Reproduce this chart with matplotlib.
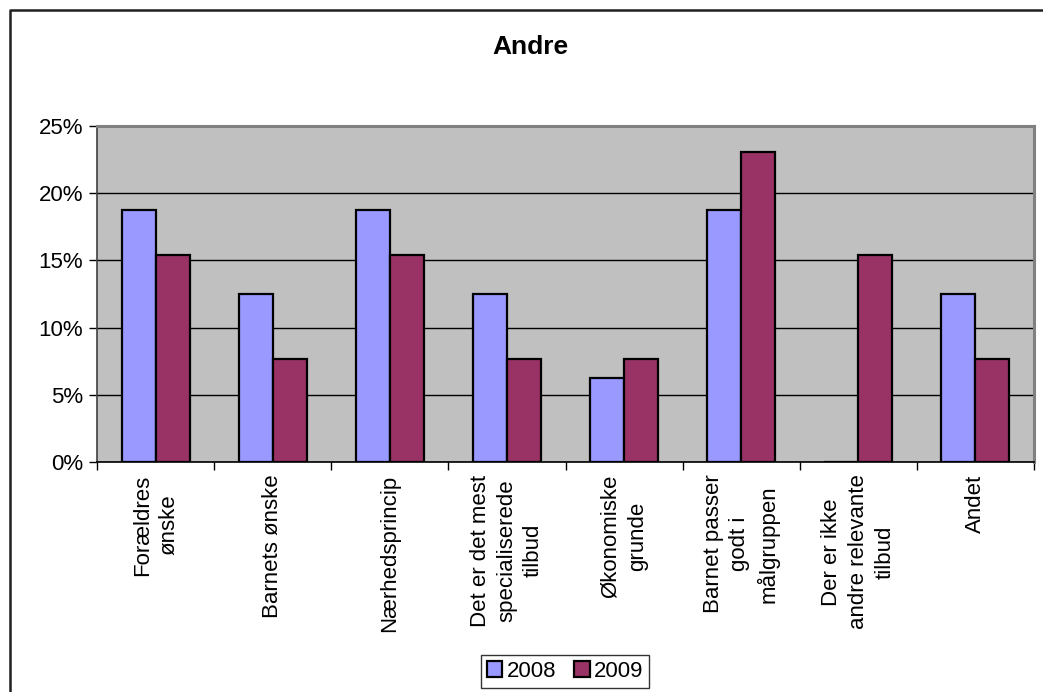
import numpy as np
import matplotlib
matplotlib.use("Agg")
import matplotlib.pyplot as plt
from matplotlib.lines import Line2D
from matplotlib.ticker import PercentFormatter

plt.rcParams['font.family'] = ['Liberation Sans', 'DejaVu Sans']

categories = [
    "Forældres\nønske",
    "Barnets ønske",
    "Nærhedsprincip",
    "Det er det mest\nspecialiserede\ntilbud",
    "Økonomiske\ngrunde",
    "Barnet passer\ngodt i\nmålgruppen",
    "Der er ikke\nandre relevante\ntilbud",
    "Andet",
]
series_names = ["2008", "2009"]
values_2008 = [18.75, 12.5, 18.75, 12.5, 6.25, 18.75, 0.0, 12.5]
values_2009 = [15.38, 7.69, 15.38, 7.69, 7.69, 23.08, 15.38, 7.69]
colors = ["#9999FF", "#993366"]

fig = plt.figure(figsize=(10.43, 6.92), dpi=100)
ax = fig.add_axes([0.093, 0.3324, 0.8984, 0.4855])
ax.set_facecolor("#C0C0C0")

x = np.arange(len(categories))
w = 0.29
ax.bar(x - w / 2, values_2008, w, color=colors[0], edgecolor="black",
       linewidth=1.6, label=series_names[0], zorder=3)
ax.bar(x + w / 2, values_2009, w, color=colors[1], edgecolor="black",
       linewidth=1.6, label=series_names[1], zorder=3)

ax.set_xlim(-0.5, len(categories) - 0.5)
ax.set_ylim(0, 25)
ax.set_yticks(np.arange(0, 26, 5))
ax.yaxis.set_major_formatter(PercentFormatter(decimals=0))
ax.yaxis.grid(True, color="black", linewidth=1, zorder=1)
ax.set_axisbelow(True)

# category boundaries get the tick marks, names sit between them
ax.set_xticks(np.arange(-0.5, len(categories), 1), minor=False)
ax.set_xticklabels([])
ax.set_xticks(x, minor=True)
ax.set_xticklabels(categories, minor=True, rotation=90, fontsize=16,
                   ha="center", va="top", multialignment="center",
                   linespacing=1.35)
ax.tick_params(axis="x", which="minor", length=0, pad=9)
ax.tick_params(axis="x", which="major", length=6, width=1, color="black")
ax.tick_params(axis="y", length=6, width=1, labelsize=16, pad=4)

for side in ["top", "right"]:
    ax.spines[side].set_color("#808080")
    ax.spines[side].set_linewidth(2.2)
ax.spines["left"].set_color("#404040")
ax.spines["bottom"].set_color("black")
ax.spines["left"].set_linewidth(1.2)
ax.spines["bottom"].set_linewidth(1.2)

fig.text(0.509, 0.932, "Andre", ha="center", va="center", fontsize=19,
         fontweight="bold")

leg = fig.legend(loc="center", bbox_to_anchor=(0.5417, 0.0296), ncol=2,
                 fontsize=16, frameon=True, fancybox=False, handlelength=0.7,
                 handleheight=0.7, handletextpad=0.2, columnspacing=0.8,
                 borderpad=0.25)
leg.get_frame().set_edgecolor("black")
leg.get_frame().set_linewidth(1)
for p in leg.get_patches():
    p.set_linewidth(1.6)

# outer chart border (runs off the right and bottom edges)
fig.add_artist(Line2D([10 / 1043, 10 / 1043, 1.0], [0.0, 1 - 10 / 692, 1 - 10 / 692],
                      transform=fig.transFigure, color="#202020", linewidth=1.8))

fig.savefig("out.png", dpi=100)
